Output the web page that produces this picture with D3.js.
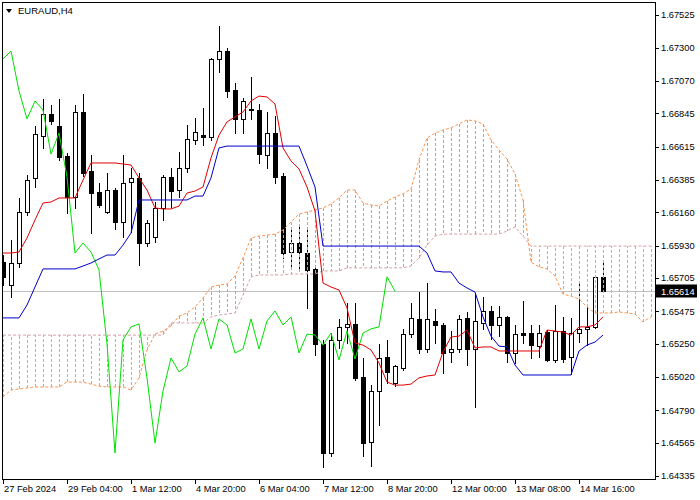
<!DOCTYPE html>
<html><head><meta charset="utf-8">
<script src="https://cdn.jsdelivr.net/npm/d3@7"></script>
<style>body{margin:0;background:#fff}svg{display:block}</style>
</head><body>
<script>
const symbolTitle = "EURAUD,H4";
const lastPrice = 1.65614;
const openP = [1.65816,1.65656,1.65809,1.66162,1.66398,1.66687,1.66840,1.66757,1.66549,1.66266,
1.66854,1.66446,1.66300,1.66162,1.66314,1.66093,1.66369,1.66398,1.65947,1.65989,
1.66190,1.66405,1.66314,1.66467,1.66660,1.66694,1.66681,1.67221,1.67276,1.67006,
1.66806,1.66875,1.66868,1.66556,1.66708,1.66411,1.65885,1.65947,1.65878,1.65768,
1.65248,1.64494,1.65276,1.65367,1.65387,1.65021,1.64570,1.64923,1.65159,1.64978,
1.65083,1.65317,1.65422,1.65214,1.65408,1.65380,1.65193,1.65214,1.65429,1.65214,
1.65394,1.65477,1.65380,1.65436,1.65186,1.65324,1.65324,1.65234,1.65331,1.65138,
1.65338,1.65159,1.65324,1.65353,1.65367,1.65713];
const highP = [1.65864,1.65968,1.66259,1.66418,1.66757,1.66944,1.66902,1.66944,1.66570,1.66902,
1.66978,1.66556,1.66362,1.66432,1.66328,1.66556,1.66467,1.66432,1.66107,1.66231,
1.66418,1.66467,1.66577,1.66764,1.66813,1.66882,1.67228,1.67449,1.67297,1.67054,
1.66951,1.67097,1.66909,1.66854,1.66826,1.66432,1.66037,1.66079,1.66059,1.65788,
1.65276,1.65324,1.65422,1.65532,1.65532,1.65152,1.64964,1.65248,1.65276,1.65103,
1.65353,1.65532,1.65608,1.65670,1.65491,1.65394,1.65338,1.65449,1.65470,1.65601,
1.65574,1.65511,1.65511,1.65442,1.65380,1.65546,1.65380,1.65380,1.65345,1.65518,
1.65436,1.65429,1.65677,1.65518,1.65726,1.65816];
const lowP = [1.65656,1.65574,1.65782,1.66141,1.66335,1.66605,1.66771,1.66522,1.66155,1.66190,
1.66411,1.66016,1.66197,1.66155,1.66045,1.65989,1.66023,1.65795,1.65926,1.65954,
1.66107,1.66197,1.66266,1.66439,1.66632,1.66625,1.66660,1.67131,1.66958,1.66708,
1.66708,1.66806,1.66501,1.66467,1.66362,1.65844,1.65775,1.65768,1.65498,1.65172,
1.64398,1.64473,1.65221,1.65255,1.64999,1.64473,1.64404,1.64688,1.64978,1.64957,
1.65069,1.65297,1.65186,1.65193,1.65255,1.65048,1.65124,1.65193,1.65103,1.64813,
1.65353,1.65283,1.65303,1.65124,1.65117,1.65255,1.65152,1.65159,1.65131,1.65124,
1.65124,1.65041,1.65262,1.65241,1.65360,1.65608];
const closeP = [1.65713,1.65809,1.66162,1.66383,1.66701,1.66840,1.66792,1.66543,1.66266,1.66854,
1.66432,1.66293,1.66210,1.66314,1.66093,1.66362,1.66398,1.65947,1.66086,1.66190,
1.66405,1.66307,1.66467,1.66667,1.66715,1.66681,1.67221,1.67276,1.66999,1.66806,
1.66930,1.66868,1.66563,1.66708,1.66405,1.65878,1.65947,1.65885,1.65761,1.65248,
1.64494,1.65276,1.65367,1.65387,1.65014,1.64563,1.64923,1.65152,1.65055,1.65096,
1.65317,1.65429,1.65214,1.65422,1.65380,1.65186,1.65214,1.65422,1.65214,1.65408,
1.65477,1.65380,1.65436,1.65186,1.65317,1.65310,1.65241,1.65324,1.65138,1.65338,
1.65145,1.65324,1.65353,1.65367,1.65713,1.65614];
const tenkan = [1.65878,1.65878,1.65885,1.65982,1.66107,1.66224,1.66231,1.66259,1.66259,1.66259,
1.66383,1.66501,1.66501,1.66501,1.66501,1.66494,1.66487,1.66398,1.66314,1.66190,
1.66183,1.66183,1.66203,1.66293,1.66307,1.66335,1.66536,1.66694,1.66785,1.66820,
1.66854,1.66930,1.66964,1.66958,1.66909,1.66605,1.66515,1.66460,1.66335,1.66169,
1.65670,1.65643,1.65622,1.65498,1.65255,1.65241,1.65207,1.65117,1.64985,1.64964,
1.64964,1.64971,1.65014,1.65027,1.65034,1.65193,1.65297,1.65303,1.65345,1.65221,
1.65228,1.65228,1.65200,1.65200,1.65200,1.65200,1.65200,1.65200,1.65345,1.65338,
1.65331,1.65310,1.65367,1.65367,1.65380,1.65436];
const kijun = [1.65429,1.65429,1.65429,1.65518,1.65643,1.65768,1.65768,1.65768,1.65768,1.65768,
1.65788,1.65809,1.65837,1.65864,1.65864,1.65933,1.66016,1.66245,1.66245,1.66245,
1.66245,1.66245,1.66245,1.66245,1.66272,1.66272,1.66398,1.66605,1.66618,1.66618,
1.66618,1.66618,1.66618,1.66618,1.66618,1.66618,1.66618,1.66618,1.66480,1.66335,
1.65926,1.65926,1.65926,1.65926,1.65926,1.65926,1.65926,1.65926,1.65926,1.65926,
1.65926,1.65926,1.65926,1.65878,1.65754,1.65747,1.65747,1.65670,1.65636,1.65608,
1.65436,1.65303,1.65234,1.65228,1.65103,1.65034,1.65034,1.65034,1.65034,1.65034,
1.65034,1.65034,1.65200,1.65241,1.65262,1.65310];
const spanA = [1.64882,1.64930,1.64937,1.64944,1.64951,1.64951,1.64951,1.64951,1.64985,1.64985,
1.64985,1.64971,1.64957,1.64951,1.64951,1.64951,1.64930,1.65014,1.65207,1.65317,
1.65338,1.65373,1.65442,1.65463,1.65505,1.65567,1.65643,1.65656,1.65663,1.65719,
1.65844,1.65982,1.65995,1.66002,1.66009,1.66037,1.66093,1.66148,1.66162,1.66176,
1.66190,1.66217,1.66259,1.66314,1.66314,1.66224,1.66210,1.66203,1.66238,1.66266,
1.66286,1.66321,1.66522,1.66674,1.66708,1.66729,1.66744,1.66771,1.66799,1.66792,
1.66771,1.66660,1.66591,1.66529,1.66425,1.66245,1.65816,1.65782,1.65768,1.65719,
1.65594,1.65580,1.65560,1.65505,1.65463,1.65463,1.65463,1.65470,1.65463,1.65456,
1.65401,1.65436];
const spanB = [1.65310,1.65310,1.65310,1.65310,1.65310,1.65310,1.65310,1.65310,1.65310,1.65310,
1.65310,1.65310,1.65310,1.65310,1.65310,1.65310,1.65310,1.65310,1.65310,1.65310,
1.65310,1.65394,1.65394,1.65394,1.65394,1.65394,1.65436,1.65449,1.65456,1.65463,
1.65587,1.65713,1.65726,1.65726,1.65726,1.65726,1.65733,1.65733,1.65733,1.65733,
1.65754,1.65754,1.65754,1.65775,1.65775,1.65775,1.65775,1.65775,1.65775,1.65775,
1.65775,1.65788,1.65844,1.65933,1.65995,1.66009,1.66009,1.66009,1.66009,1.66009,
1.66009,1.66009,1.66009,1.66030,1.66059,1.65995,1.65926,1.65926,1.65926,1.65926,
1.65926,1.65926,1.65926,1.65926,1.65926,1.65926,1.65926,1.65926,1.65926,1.65926,
1.65926,1.65926];
const chikouShift = 26;
const priceTicks = [1.67525,1.67300,1.67070,1.66845,1.66615,1.66385,1.66160,1.65930,1.65705,1.65475,1.65250,1.65020,1.64790,1.64565,1.64335];
const timeTickIdx = [0,8,16,24,32,40,48,56,64,72];
const timeTickLabels = ["27 Feb 2024","29 Feb 04:00","1 Mar 12:00","4 Mar 20:00","6 Mar 04:00","7 Mar 12:00","8 Mar 20:00","12 Mar 00:00","13 Mar 08:00","14 Mar 16:00"];

const W = 700, H = 500;
const L = 3, R = 655, T = 2, B = 480;
const FONT = "'Liberation Sans', Arial, sans-serif";
const y = d3.scaleLinear().domain([1.64335, 1.67525]).range([476, 15]);
const x = d3.scaleLinear().domain([0, 81]).range([3, 651]);

const svg = d3.select("body").append("svg").attr("width", W).attr("height", H)
  .style("font-family", FONT);
svg.append("defs").append("clipPath").attr("id", "clip")
  .append("rect").attr("x", L).attr("y", T).attr("width", R - L).attr("height", B - T);
const g = svg.append("g").attr("clip-path", "url(#clip)");

// bid line
const yLast = Math.round(y(lastPrice)) + 0.5;
g.append("line").attr("x1", L).attr("x2", R).attr("y1", yLast).attr("y2", yLast)
  .attr("stroke", "#c0c0c0").attr("stroke-width", 1);

// candles
const idx = d3.range(openP.length);
const cg = g.append("g");
cg.selectAll("line.wick").data(idx).join("line").attr("class", "wick")
  .attr("x1", i => Math.round(x(i)) + 0.5).attr("x2", i => Math.round(x(i)) + 0.5)
  .attr("y1", i => Math.round(y(highP[i]))).attr("y2", i => Math.round(y(lowP[i])) + 1)
  .attr("stroke", "#000").attr("stroke-width", 1);
cg.selectAll("rect.body").data(idx).join("rect").attr("class", "body")
  .attr("x", i => Math.round(x(i)) - 1.5)
  .attr("y", i => Math.min(Math.round(y(openP[i])), Math.round(y(closeP[i]))) + 0.5)
  .attr("width", 4)
  .attr("height", i => Math.abs(Math.round(y(openP[i])) - Math.round(y(closeP[i]))))
  .attr("fill", i => closeP[i] >= openP[i] ? "#fff" : "#000")
  .attr("stroke", "#000").attr("stroke-width", 1);

// kumo hatch
const upCol = "#fa9450", dnCol = "#d8a0a8";
const kidx = d3.range(spanA.length);
g.append("g").selectAll("line").data(kidx).join("line")
  .attr("x1", i => Math.round(x(i)) + 0.5).attr("x2", i => Math.round(x(i)) + 0.5)
  .attr("y1", i => Math.round(y(spanA[i]))).attr("y2", i => Math.round(y(spanB[i])))
  .attr("stroke", i => spanA[i] >= spanB[i] ? upCol : dnCol)
  .attr("stroke-width", 1).attr("stroke-dasharray", "3,2");

const lineGen = d3.line().x((d, i) => x(i)).y(d => y(d));
g.append("path").datum(spanA).attr("d", lineGen).attr("fill", "none")
  .attr("stroke", upCol).attr("stroke-width", 1).attr("stroke-dasharray", "3,2");
g.append("path").datum(spanB).attr("d", lineGen).attr("fill", "none")
  .attr("stroke", dnCol).attr("stroke-width", 1).attr("stroke-dasharray", "3,2");

// chikou (close shifted back)
g.append("path").datum(closeP.slice(chikouShift)).attr("d", lineGen).attr("fill", "none")
  .attr("stroke", "#00e000").attr("stroke-width", 1);
g.append("path").datum(tenkan).attr("d", lineGen).attr("fill", "none")
  .attr("stroke", "#e00000").attr("stroke-width", 1);
g.append("path").datum(kijun).attr("d", lineGen).attr("fill", "none")
  .attr("stroke", "#0000cc").attr("stroke-width", 1);

// frame
svg.append("rect").attr("x", 2.5).attr("y", 2.5).attr("width", 653).attr("height", 477)
  .attr("fill", "none").attr("stroke", "#000").attr("stroke-width", 1);

// price axis
const ya = svg.append("g");
ya.selectAll("line").data(priceTicks).join("line")
  .attr("x1", 655).attr("x2", 659)
  .attr("y1", d => Math.round(y(d)) + 0.5).attr("y2", d => Math.round(y(d)) + 0.5)
  .attr("stroke", "#000");
ya.selectAll("text").data(priceTicks).join("text")
  .attr("x", 661).attr("y", d => y(d)).attr("dy", "0.36em")
  .attr("font-size", "9.3px").attr("fill", "#000")
  .text(d => d.toFixed(5));

// bid label
svg.append("rect").attr("x", 655).attr("y", yLast - 7).attr("width", 42).attr("height", 13).attr("fill", "#000");
svg.append("text").attr("x", 661).attr("y", yLast).attr("dy", "0.36em")
  .attr("font-size", "9.3px").attr("fill", "#fff").text(lastPrice.toFixed(5));

// time axis
const xa = svg.append("g");
xa.selectAll("line").data(timeTickIdx).join("line")
  .attr("x1", i => Math.round(x(i)) + 0.5).attr("x2", i => Math.round(x(i)) + 0.5)
  .attr("y1", 480).attr("y2", 484).attr("stroke", "#000");
xa.selectAll("text").data(timeTickIdx).join("text")
  .attr("x", i => Math.round(x(i)) + 1).attr("y", 492)
  .attr("font-size", "9.3px").attr("fill", "#000")
  .text((d, k) => timeTickLabels[k]);

// title
svg.append("path").attr("d", "M6,9 L12,9 L9,13 Z").attr("fill", "#000");
svg.append("text").attr("x", 18).attr("y", 14).attr("font-size", "9.5px").attr("fill", "#000").text(symbolTitle);
</script>
</body></html>
